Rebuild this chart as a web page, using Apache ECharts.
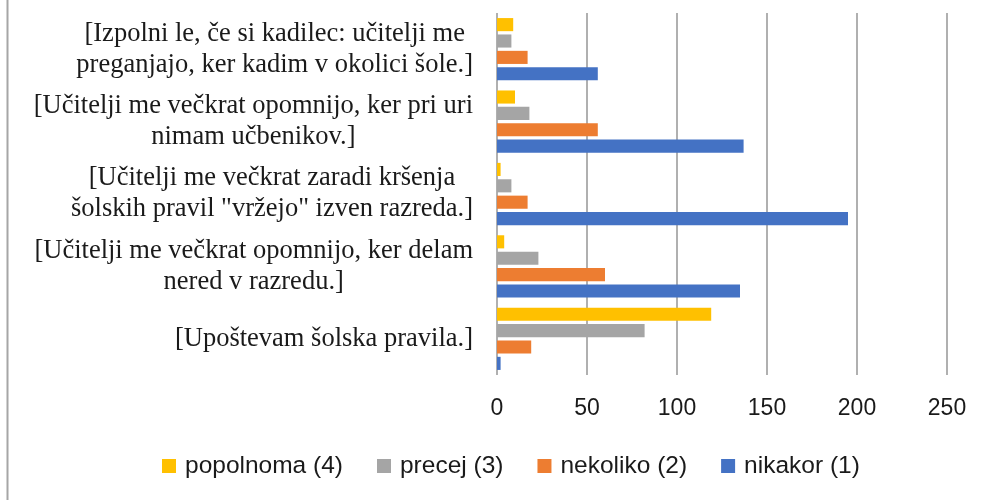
<!DOCTYPE html>
<html>
<head>
<meta charset="utf-8">
<script src="https://cdn.jsdelivr.net/npm/echarts@6/dist/echarts.min.js"></script>
<style>html,body{margin:0;padding:0;background:#fff;}#c{width:983px;height:500px;}</style>
</head>
<body>
<div id="c"></div>
<script>
// Categories, bottom to top
const categories = [
  "[Upoštevam šolska pravila.]",
  "[Učitelji me večkrat opomnijo, ker delam\nnered v razredu.]",
  "[Učitelji me večkrat zaradi kršenja\nšolskih pravil \"vržejo\" izven razreda.]",
  "[Učitelji me večkrat opomnijo, ker pri uri\nnimam učbenikov.]",
  "[Izpolni le, če si kadilec: učitelji me\npreganjajo, ker kadim v okolici šole.]"
];
const seriesNames = ["popolnoma (4)", "precej (3)", "nekoliko (2)", "nikakor (1)"];
const popolnoma = [119, 4, 2, 10, 9];
const precej = [82, 23, 8, 18, 8];
const nekoliko = [19, 60, 17, 56, 17];
const nikakor = [2, 135, 195, 137, 56];
const xTicks = [0, 50, 100, 150, 200, 250];

const colors = ["#FFC000", "#A5A5A5", "#ED7D31", "#4472C4"];
const values = [popolnoma, precej, nekoliko, nikakor];

const chart = echarts.init(document.getElementById('c'), null, {renderer: 'canvas'});
const serif = { fontFamily: '"Liberation Serif", "Times New Roman", serif', fontSize: 26.5, color: '#1a1a1a', lineHeight: 31, align: 'center' };

chart.setOption({
  animation: false,
  backgroundColor: '#ffffff',
  grid: { left: 497, right: 36, top: 13, bottom: 125, containLabel: false },
  legend: {
    data: seriesNames,
    left: 162,
    top: 452,
    padding: 0,
    icon: 'rect',
    itemWidth: 14,
    itemHeight: 14,
    itemGap: 34,
    textStyle: { fontFamily: '"Liberation Sans", Arial, sans-serif', fontSize: 24.5, lineHeight: 28, color: '#1a1a1a', padding: [0, 0, 0, 4] }
  },
  xAxis: {
    type: 'value',
    min: xTicks[0],
    max: xTicks[xTicks.length - 1],
    interval: xTicks[1] - xTicks[0],
    axisLine: { show: false },
    axisTick: { show: false },
    splitLine: { show: true, lineStyle: { color: '#b0b0b0', width: 2 } },
    axisLabel: { margin: 22, fontFamily: '"Liberation Sans", Arial, sans-serif', fontSize: 23, color: '#1a1a1a' }
  },
  yAxis: {
    type: 'category',
    data: categories,
    axisLine: { show: false },
    axisTick: { show: false },
    splitLine: { show: false },
    axisLabel: {
      margin: 24,
      align: 'right',
      formatter: function (v) { return v.split('\n').map(function (l) { return '{c|' + l + '}'; }).join('\n'); },
      rich: { c: serif }
    }
  },
  graphic: [{
    type: 'line', shape: { x1: 7.5, y1: 0, x2: 7.5, y2: 500 },
    style: { stroke: '#a6a6a6', lineWidth: 2 }, silent: true
  }],
  series: seriesNames.map(function (n, i) {
    return {
      name: n, type: 'bar', data: values[i],
      itemStyle: { color: colors[i] },
      barGap: '25%', barCategoryGap: '14%'
    };
  })
});
</script>
</body>
</html>
